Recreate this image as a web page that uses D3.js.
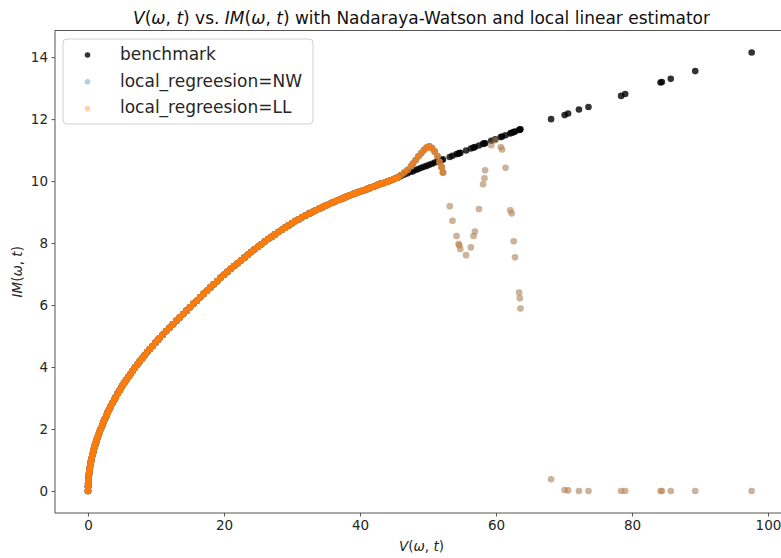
<!DOCTYPE html>
<html>
<head>
<meta charset="utf-8">
<script src="https://cdn.jsdelivr.net/npm/d3@7"></script>
<style>
  body { margin: 0; background: #fff; }
  svg { display: block; }
  text { font-family: "DejaVu Sans", sans-serif; }
</style>
</head>
<body>
<svg id="chart" width="781" height="558"></svg>
<script>
// Sample points: V(omega, t) shared by all three series
const V = [
  0, 0.01, 0.03, 0.06, 0.1, 0.15, 0.2, 0.27, 0.35, 0.44, 0.54, 0.65, 0.77, 0.9, 1.04, 1.19, 1.35, 1.52, 1.7, 1.9, 2.1,
  2.3, 2.5, 2.7, 2.9, 3.1, 3.35, 3.6, 3.85, 4.1, 4.4, 4.7, 5.0, 5.3, 5.6, 5.9, 6.2, 6.55, 6.9, 7.25, 7.6, 7.95, 8.3, 8.7, 9.1, 9.5, 9.9, 10.3,
  10.5, 11, 11.5, 12, 12.5, 13, 13.5, 14, 14.5, 15, 15.5, 16, 16.5, 17, 17.5, 18, 18.5, 19, 19.5, 20,
  20.5, 21, 21.5, 22, 22.5, 23, 23.5, 24, 24.5, 25, 25.5, 26, 26.5, 27, 27.5, 28, 28.5, 29, 29.5, 30,
  30.5, 31, 31.5, 32, 32.5, 33, 33.5, 34, 34.5, 35, 35.5, 36, 36.5, 37, 37.5, 38, 38.5, 39, 39.5, 40,
  40.5, 41, 41.5, 42, 42.5, 43, 43.5, 44, 44.5, 45, 45.5,
  46, 46.5, 47, 47.5, 47.8, 48.2, 48.6, 49, 49.4, 49.8, 50.2, 50.6, 51, 51.4, 51.7, 52, 52.2, 53.2, 53.6, 54.2,
  54.5, 54.6, 54.75, 55.6, 56.3, 56.7, 56.9, 57.5, 58.1, 58.3, 58.4, 59.3, 59.9, 60.7, 60.9, 61.4, 62.1, 62.3, 62.6, 62.8,
  63.4, 63.5, 63.6,
  68.1, 70.1, 70.6, 72.2, 73.6, 78.4, 79.0, 84.2, 84.4, 85.7, 89.3, 97.6
];

// Benchmark IM(omega, t)
const benchmarkIM = [
  0, 0.14, 0.24, 0.34, 0.45, 0.55, 0.63, 0.74, 0.84, 0.95, 1.05, 1.16, 1.26, 1.38, 1.48, 1.58, 1.70, 1.80, 1.90, 2.01, 2.12,
  2.23, 2.33, 2.43, 2.53, 2.62, 2.73, 2.84, 2.94, 3.04, 3.16, 3.26, 3.38, 3.48, 3.57, 3.67, 3.76, 3.87, 3.98, 4.08, 4.18, 4.27, 4.37, 4.48, 4.58, 4.68, 4.78, 4.88,
  4.93, 5.04, 5.16, 5.27, 5.38, 5.49, 5.60, 5.71, 5.82, 5.93, 6.04, 6.14, 6.25, 6.36, 6.46, 6.57, 6.67, 6.77, 6.88, 6.98,
  7.07, 7.17, 7.26, 7.35, 7.44, 7.53, 7.62, 7.71, 7.80, 7.88, 7.96, 8.05, 8.13, 8.20, 8.28, 8.36, 8.43, 8.50, 8.57, 8.64,
  8.71, 8.77, 8.83, 8.89, 8.95, 9.00, 9.06, 9.11, 9.16, 9.21, 9.26, 9.31, 9.36, 9.40, 9.45, 9.49, 9.54, 9.58, 9.62, 9.66,
  9.70, 9.74, 9.78, 9.82, 9.87, 9.91, 9.94, 9.98, 10.03, 10.07, 10.11,
  10.16, 10.21, 10.25, 10.30, 10.32, 10.36, 10.39, 10.43, 10.46, 10.49, 10.53, 10.56, 10.60, 10.63, 10.65, 10.68, 10.70, 10.78, 10.82, 10.87,
  10.89, 10.90, 10.91, 10.99, 11.05, 11.08, 11.10, 11.15, 11.20, 11.22, 11.22, 11.30, 11.35, 11.42, 11.44, 11.48, 11.54, 11.56, 11.58, 11.60,
  11.65, 11.66, 11.67,
  12.0, 12.13, 12.18, 12.31, 12.39, 12.75, 12.81, 13.18, 13.2, 13.3, 13.55, 14.15
];

// Nadaraya-Watson estimate
const nwIM = [
  0, 0.14, 0.24, 0.34, 0.45, 0.55, 0.63, 0.74, 0.84, 0.95, 1.05, 1.16, 1.26, 1.38, 1.48, 1.58, 1.70, 1.80, 1.90, 2.01, 2.12,
  2.23, 2.33, 2.43, 2.53, 2.62, 2.73, 2.84, 2.94, 3.04, 3.16, 3.26, 3.38, 3.48, 3.57, 3.67, 3.76, 3.87, 3.98, 4.08, 4.18, 4.27, 4.37, 4.48, 4.58, 4.68, 4.78, 4.88,
  4.93, 5.04, 5.16, 5.27, 5.38, 5.49, 5.60, 5.71, 5.82, 5.93, 6.04, 6.14, 6.25, 6.36, 6.46, 6.57, 6.67, 6.77, 6.88, 6.98,
  7.07, 7.17, 7.26, 7.35, 7.44, 7.53, 7.62, 7.71, 7.80, 7.88, 7.96, 8.05, 8.13, 8.20, 8.28, 8.36, 8.43, 8.50, 8.57, 8.64,
  8.71, 8.77, 8.83, 8.89, 8.95, 9.00, 9.06, 9.11, 9.16, 9.21, 9.26, 9.31, 9.36, 9.40, 9.45, 9.49, 9.54, 9.58, 9.62, 9.66,
  9.70, 9.74, 9.78, 9.82, 9.87, 9.91, 9.94, 9.98, 10.03, 10.07, 10.11,
  10.19, 10.28, 10.36, 10.47, 10.57, 10.68, 10.80, 10.90, 11.00, 11.08, 11.12, 11.06, 10.95, 10.80, 10.62, 10.45, 10.28, 9.19, 8.72, 8.23,
  7.97, 7.93, 7.81, 7.61, 7.86, 8.23, 8.37, 9.10, 9.90, 10.09, 10.35, 11.16, 11.32, 11.10, 11.02, 10.43, 9.06, 8.96, 8.06, 7.54,
  6.40, 6.22, 5.89,
  0.38, 0.03, 0.02, 0, 0, 0, 0, 0, 0, 0, 0, 0
];

// Local linear estimate
const llIM = [
  0, 0.14, 0.24, 0.34, 0.45, 0.55, 0.63, 0.74, 0.84, 0.95, 1.05, 1.16, 1.26, 1.38, 1.48, 1.58, 1.70, 1.80, 1.90, 2.01, 2.12,
  2.23, 2.33, 2.43, 2.53, 2.62, 2.73, 2.84, 2.94, 3.04, 3.16, 3.26, 3.38, 3.48, 3.57, 3.67, 3.76, 3.87, 3.98, 4.08, 4.18, 4.27, 4.37, 4.48, 4.58, 4.68, 4.78, 4.88,
  4.93, 5.04, 5.16, 5.27, 5.38, 5.49, 5.60, 5.71, 5.82, 5.93, 6.04, 6.14, 6.25, 6.36, 6.46, 6.57, 6.67, 6.77, 6.88, 6.98,
  7.07, 7.17, 7.26, 7.35, 7.44, 7.53, 7.62, 7.71, 7.80, 7.88, 7.96, 8.05, 8.13, 8.20, 8.28, 8.36, 8.43, 8.50, 8.57, 8.64,
  8.71, 8.77, 8.83, 8.89, 8.95, 9.00, 9.06, 9.11, 9.16, 9.21, 9.26, 9.31, 9.36, 9.40, 9.45, 9.49, 9.54, 9.58, 9.62, 9.66,
  9.70, 9.74, 9.78, 9.82, 9.87, 9.91, 9.94, 9.98, 10.03, 10.07, 10.11,
  10.19, 10.28, 10.36, 10.47, 10.57, 10.68, 10.80, 10.90, 11.00, 11.08, 11.12, 11.06, 10.95, 10.80, 10.62, 10.45, 10.28, 9.19, 8.72, 8.23,
  7.97, 7.93, 7.81, 7.61, 7.86, 8.23, 8.37, 9.10, 9.90, 10.09, 10.35, 11.16, 11.32, 11.10, 11.02, 10.43, 9.06, 8.96, 8.06, 7.54,
  6.40, 6.22, 5.89,
  0.38, 0.03, 0.02, 0, 0, 0, 0, 0, 0, 0, 0, 0
];

// Each listed point on the smooth stretch stands for several coincident samples
// [upper V bound, samples per listed point]
const samplesPerPoint = [[45.9, 7], [52.3, 3], [Infinity, 1]];

const xTicks = [0, 20, 40, 60, 80, 100];
const yTicks = [0, 2, 4, 6, 8, 10, 12, 14];
const seriesLabels = ["benchmark", "local_regreesion=NW", "local_regreesion=LL"];

const svg = d3.select("#chart");

const x = d3.scaleLinear().domain([-4.85, 102.94]).range([55, 788]);
const y = d3.scaleLinear().domain([-0.71, 14.86]).range([513, 30.5]);

const tickColor = "#262626";
const spineColor = "#555";
const tickFont = "13.5px";

// Axes
const xAxis = svg.append("g")
  .attr("transform", `translate(0,${y.range()[0]})`)
  .call(d3.axisBottom(x).tickValues(xTicks).tickFormat(d3.format("d")).tickSize(3.5).tickSizeOuter(0).tickPadding(3.5));
const yAxis = svg.append("g")
  .attr("transform", `translate(${x.range()[0]},0)`)
  .call(d3.axisLeft(y).tickValues(yTicks).tickFormat(d3.format("d")).tickSize(3.5).tickSizeOuter(0).tickPadding(3.5));

[xAxis, yAxis].forEach(g => {
  g.select(".domain").remove();
  g.selectAll(".tick line").attr("stroke", spineColor).attr("stroke-width", 1);
  g.selectAll(".tick text")
    .attr("fill", tickColor)
    .style("font-family", "'DejaVu Sans', sans-serif")
    .style("font-size", tickFont);
});

// Spines
svg.append("rect")
  .attr("x", x.range()[0]).attr("y", y.range()[1])
  .attr("width", x.range()[1] - x.range()[0])
  .attr("height", y.range()[0] - y.range()[1])
  .attr("fill", "none")
  .attr("stroke", spineColor)
  .attr("stroke-width", 1);

// Points
const rows = V.map((v, i) => ({ v, bench: benchmarkIM[i], nw: nwIM[i], ll: llIM[i] }));
const repeatCount = v => samplesPerPoint.find(([upTo]) => v <= upTo)[1];
const stacked = rows.flatMap(d => d3.range(repeatCount(d.v)).map(() => d));

const plot = svg.append("g");
const r = 3.3;

plot.append("g").selectAll("circle")
  .data(rows).join("circle")
  .attr("cx", d => x(d.v)).attr("cy", d => y(d.bench)).attr("r", r)
  .attr("fill", "#000").attr("fill-opacity", 0.8);

plot.append("g").selectAll("circle")
  .data(stacked).join("circle")
  .attr("cx", d => x(d.v)).attr("cy", d => y(d.nw)).attr("r", r)
  .attr("fill", "#1f77b4").attr("fill-opacity", 0.35);

plot.append("g").selectAll("circle")
  .data(stacked).join("circle")
  .attr("cx", d => x(d.v)).attr("cy", d => y(d.ll)).attr("r", r)
  .attr("fill", "#ff7f0e").attr("fill-opacity", 0.35);

// Math-style label: italic letters, upright punctuation
function mathLabel(sel, pieces) {
  pieces.forEach(([t, it]) => {
    sel.append("tspan").text(t).style("font-style", it ? "italic" : "normal");
  });
}
const vPieces = [["V", 1], ["(", 0], ["\u03c9", 1], [", ", 0], ["t", 1], [")", 0]];
const imPieces = [["IM", 1], ["(", 0], ["\u03c9", 1], [", ", 0], ["t", 1], [")", 0]];

// Title
const title = svg.append("text")
  .attr("x", (x.range()[0] + x.range()[1]) / 2).attr("y", 24)
  .attr("text-anchor", "middle").attr("fill", "#111")
  .style("font-size", "17px");
mathLabel(title, vPieces);
title.append("tspan").text(" vs. ");
mathLabel(title, imPieces);
title.append("tspan").text(" with Nadaraya-Watson and local linear estimator");

// Axis labels
const xl = svg.append("text")
  .attr("x", (x.range()[0] + x.range()[1]) / 2).attr("y", 551)
  .attr("text-anchor", "middle").attr("fill", tickColor)
  .style("font-size", tickFont);
mathLabel(xl, vPieces);

const yl = svg.append("text")
  .attr("transform", `translate(22,${(y.range()[0] + y.range()[1]) / 2}) rotate(-90)`)
  .attr("text-anchor", "middle").attr("fill", tickColor)
  .style("font-size", tickFont);
mathLabel(yl, imPieces);

// Legend
const legend = svg.append("g");
legend.append("rect")
  .attr("x", 63).attr("y", 39).attr("width", 250).attr("height", 85).attr("rx", 4)
  .attr("fill", "#fff").attr("fill-opacity", 0.8)
  .attr("stroke", "#d0d0d0").attr("stroke-width", 1);

const legendStyles = [
  { fill: "#000", op: 0.8 },
  { fill: "#1f77b4", op: 0.35 },
  { fill: "#ff7f0e", op: 0.35 }
];
seriesLabels.forEach((label, i) => {
  const cy = 55 + i * 26.8;
  legend.append("circle")
    .attr("cx", 87.5).attr("cy", cy).attr("r", 2.8)
    .attr("fill", legendStyles[i].fill).attr("fill-opacity", legendStyles[i].op);
  legend.append("text")
    .attr("x", 120).attr("y", cy + 4.8)
    .attr("fill", tickColor)
    .style("font-size", "17px")
    .text(label);
});
</script>
</body>
</html>
